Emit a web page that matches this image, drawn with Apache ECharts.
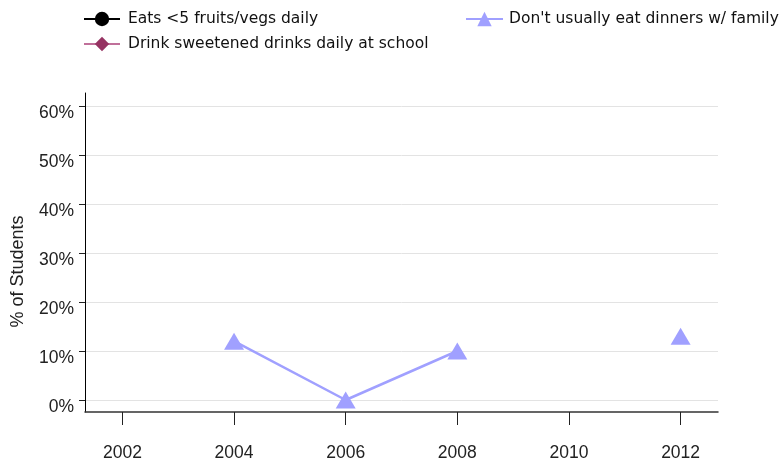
<!DOCTYPE html>
<html><head><meta charset="utf-8">
<script src="https://cdn.jsdelivr.net/npm/echarts@6/dist/echarts.min.js"></script>
<style>html,body{margin:0;padding:0;background:#fff}#c{width:780px;height:462px}</style>
</head><body><div id="c"></div>
<script>
const years = [2002, 2004, 2006, 2008, 2010, 2012];
const eatsFruitVeg = [null, null, null, null, null, null];
const noFamilyDinner = [null, 12, 0, 10, null, 13];
const sweetDrinks = [null, null, null, null, null, null];
const yTicks = [0, 10, 20, 30, 40, 50, 60];
const names = ['Eats <5 fruits/vegs daily', "Don't usually eat dinners w/ family", 'Drink sweetened drinks daily at school'];

const pairs = arr => years.map((y, i) => [y, arr[i]]);
const tickFont = 'Liberation Sans, Arial, sans-serif';
const legFont = 'DejaVu Sans, Verdana, sans-serif';

const chart = echarts.init(document.getElementById('c'), null, {renderer: 'canvas'});
chart.setOption({
  animation: false,
  backgroundColor: '#fff',
  grid: {left: 85, right: 62, top: 93, bottom: 49, containLabel: false},
  legend: [
    {left: 83, top: 11, padding: 0, orient: 'vertical', itemWidth: 36, itemHeight: 18, itemGap: 9,
     data: [names[0], names[2]],
     textStyle: {fontFamily: legFont, fontSize: 15.5, color: '#111', padding: [0, 0, 0, 3]}},
    {left: 465, top: 11, padding: 0, orient: 'vertical', itemWidth: 37, itemHeight: 18, itemGap: 9,
     data: [names[1]],
     textStyle: {fontFamily: legFont, fontSize: 15.5, color: '#111', padding: [0, 0, 0, 1]}}
  ],
  xAxis: {
    type: 'value', min: 2001.33, max: 2012.67,
    axisLine: {show: true, onZero: false, lineStyle: {color: '#333', width: 1.5}},
    axisTick: {show: true, inside: false, length: 13, lineStyle: {color: '#222', width: 1}, customValues: years},
    axisLabel: {customValues: years, formatter: v => String(v), margin: 32,
      fontFamily: tickFont, fontSize: 17.5, color: '#222'},
    splitLine: {show: false}
  },
  yAxis: {
    type: 'value', min: -2.45, max: 62.65,
    name: '% of Students', nameLocation: 'middle', nameGap: 58,
    nameTextStyle: {fontFamily: tickFont, fontSize: 18, color: '#222', padding: [0, 38, 0, 0]},
    axisLine: {show: true, onZero: false, lineStyle: {color: '#000', width: 1}},
    axisTick: {show: true, length: 6, lineStyle: {color: '#222'}, customValues: yTicks},
    axisLabel: {customValues: yTicks, formatter: v => v + '%', margin: 11,
      fontFamily: tickFont, fontSize: 17.5, color: '#222', verticalAlign: 'top', lineHeight: 14},
    splitLine: {show: true, lineStyle: {color: '#e3e3e3', width: 1}}
  },
  series: [
    {name: names[0], type: 'line', data: pairs(eatsFruitVeg), symbol: 'circle', symbolSize: 12,
     itemStyle: {color: '#000'}, lineStyle: {color: '#000', width: 1.5}, connectNulls: false},
    {name: names[1], type: 'line', data: pairs(noFamilyDinner), symbol: 'triangle', symbolSize: [20, 17],
     showAllSymbol: true,
     itemStyle: {color: '#a0a0ff'}, lineStyle: {color: '#a0a0ff', width: 2.5}, connectNulls: false},
    {name: names[2], type: 'line', data: pairs(sweetDrinks), symbol: 'diamond', symbolSize: 16,
     itemStyle: {color: '#963362'}, lineStyle: {color: '#c0709a', width: 1.5}, connectNulls: false}
  ]
});
</script></body></html>
